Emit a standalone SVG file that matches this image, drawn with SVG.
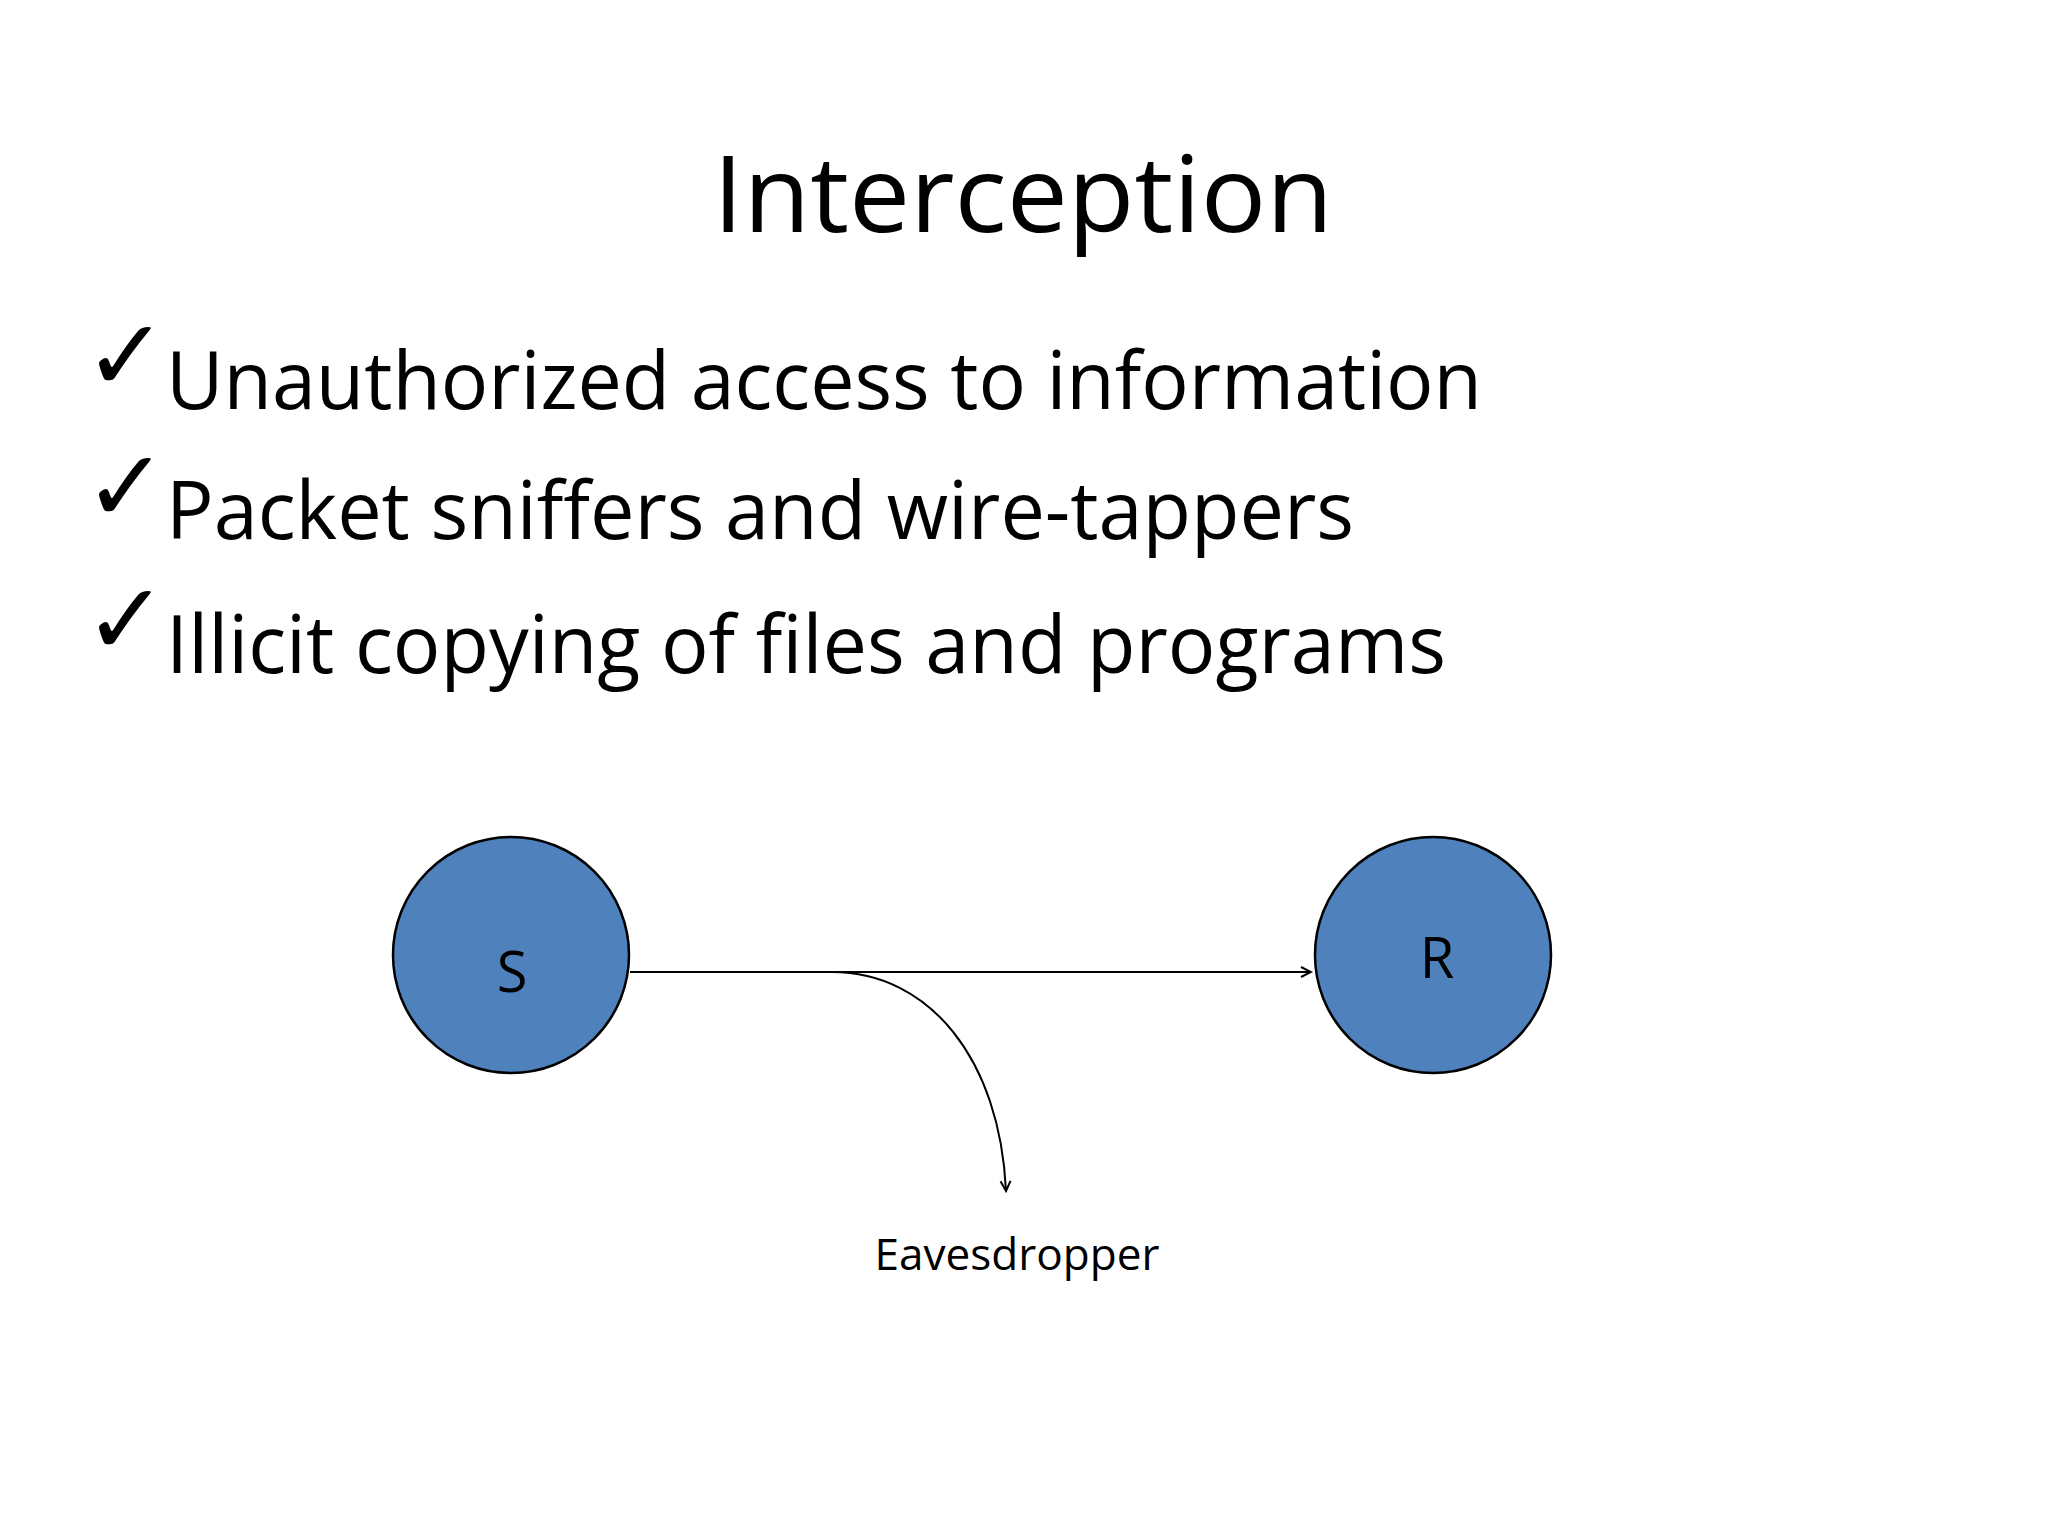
<svg xmlns="http://www.w3.org/2000/svg" width="2048" height="1536" viewBox="0 0 2048 1536">
<defs>
<style>
text{font-family:"Open Sans","Liberation Sans",sans-serif;fill:#000}
.b{font-size:80px}
.c{font-size:100px;font-family:"DejaVu Sans",sans-serif;font-weight:bold}
.node{fill:#4f81bd;stroke:#000;stroke-width:2.5}
.lbl{font-size:56px;text-anchor:middle}
.e{fill:none;stroke:#000;stroke-width:2}
</style>
<marker id="a" markerWidth="14" markerHeight="14" refX="12" refY="7" orient="auto" markerUnits="userSpaceOnUse">
<path d="M2,2 L12,7 L2,12" fill="none" stroke="#000" stroke-width="2"/>
</marker>
</defs>
<rect width="2048" height="1536" fill="#fff"/>
<text x="1023" y="232" font-size="106" text-anchor="middle" textLength="620" lengthAdjust="spacingAndGlyphs">Interception</text>
<text class="c" x="84" y="390">✓</text>
<text class="b" x="166" y="409" textLength="1316" lengthAdjust="spacingAndGlyphs">Unauthorized access to information</text>
<text class="c" x="84" y="521">✓</text>
<text class="b" x="166" y="539" textLength="1188" lengthAdjust="spacingAndGlyphs">Packet sniffers and wire-tappers</text>
<text class="c" x="84" y="654">✓</text>
<text class="b" x="166" y="673" textLength="1280" lengthAdjust="spacingAndGlyphs">Illicit copying of files and programs</text>
<g id="S"><circle class="node" cx="511" cy="955" r="118"/><text class="lbl" x="512" y="992">S</text></g>
<g id="R"><circle class="node" cx="1433" cy="955" r="118"/><text class="lbl" x="1437" y="978">R</text></g>
<g id="connectors">
<path class="e" d="M630,972 L1311,972" marker-end="url(#a)"/>
<path class="e" d="M832,972 C930,972 1000,1060 1006,1191" marker-end="url(#a)"/>
</g>
<g id="Eavesdropper"><text x="1017" y="1270" font-size="44" text-anchor="middle" textLength="285" lengthAdjust="spacingAndGlyphs">Eavesdropper</text></g>
</svg>
